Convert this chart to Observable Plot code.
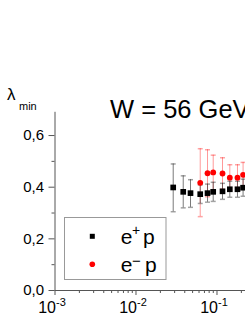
<!DOCTYPE html>
<html><head><meta charset="utf-8">
<script src="https://cdn.jsdelivr.net/npm/d3@7"></script>
<script src="https://cdn.jsdelivr.net/npm/@observablehq/plot@0.6"></script>
<style>
html,body{margin:0;padding:0;background:#fff;overflow:hidden;}
#chart{position:relative;width:245px;height:317px;overflow:hidden;}
</style></head><body><div id="chart"></div>
<script>
// e+ p series
const xEplus    = [0.0288,0.0383,0.0471,0.0621,0.0764,0.0898,0.117,0.144,0.179,0.210];
const lamEplus  = [0.399,0.382,0.377,0.373,0.377,0.382,0.384,0.392,0.392,0.398];
const lowEplus  = [0.305,0.320,0.322,0.337,0.342,0.345,0.353,0.361,0.361,0.365];
const highEplus = [0.490,0.444,0.429,0.409,0.412,0.419,0.415,0.423,0.423,0.431];
// e- p series
const xEminus    = [0.0621,0.0764,0.0898,0.117,0.144,0.179,0.210];
const lamEminus  = [0.417,0.454,0.457,0.453,0.437,0.437,0.448];
const lowEminus  = [0.286,0.363,0.390,0.392,0.387,0.387,0.400];
const highEminus = [0.549,0.545,0.524,0.514,0.487,0.487,0.496];
// ticks
const yTicks = [0, 0.2, 0.4, 0.6];
const yMinor = [0.1, 0.3, 0.5];
const xTicks = [1e-3, 1e-2, 1e-1];
const xMinor = [2e-3,3e-3,4e-3,5e-3,6e-3,7e-3,8e-3,9e-3,2e-2,3e-2,4e-2,5e-2,6e-2,7e-2,8e-2,9e-2,2e-1];
const titleText = "W = 56 GeV";
const yLabelMain = "λ", yLabelSub = "min";
const legendSeries = [["e","+","p"],["e","−","p"]];

const rowsPlus = xEplus.map((x,i)=>({x, y:lamEplus[i], lo:lowEplus[i], hi:highEplus[i]}));
const rowsMinus = xEminus.map((x,i)=>({x, y:lamEminus[i], lo:lowEminus[i], hi:highEminus[i]}));

const cap = {draw(ctx){ ctx.moveTo(-2.5,0); ctx.lineTo(2.5,0); }};
const AX = "#555";
const FONT = "'Liberation Sans', Arial, sans-serif";
const blank = () => "";

const plot = Plot.plot({
  width: 245, height: 317,
  marginLeft: 54.5, marginRight: 0, marginTop: 111.8, marginBottom: 27,
  style: {fontFamily: FONT, fontSize: "15px", background: "white", color: "black"},
  x: {type: "log", domain: [1e-3, 0.2249], axis: null},
  y: {domain: [0, 0.69], axis: null},
  marks: [
    Plot.ruleX(rowsMinus, {x:"x", y1:"lo", y2:"hi", stroke:"red", strokeOpacity:0.4, strokeWidth:1}),
    Plot.dot(rowsMinus, {x:"x", y:"lo", symbol:cap, stroke:"red", strokeOpacity:0.35, fill:"none"}),
    Plot.dot(rowsMinus, {x:"x", y:"hi", symbol:cap, stroke:"red", strokeOpacity:0.35, fill:"none"}),
    Plot.ruleX(rowsPlus, {x:"x", y1:"lo", y2:"hi", stroke:"#333", strokeOpacity:0.65, strokeWidth:1}),
    Plot.dot(rowsPlus, {x:"x", y:"lo", symbol:cap, stroke:"#333", strokeOpacity:0.45, fill:"none"}),
    Plot.dot(rowsPlus, {x:"x", y:"hi", symbol:cap, stroke:"#333", strokeOpacity:0.45, fill:"none"}),
    Plot.dot(rowsPlus, {x:"x", y:"y", symbol:"square", r:3.2, fill:"black", stroke:"none"}),
    Plot.dot(rowsMinus, {x:"x", y:"y", symbol:"circle", r:2.9, fill:"red", stroke:"none"}),
    Plot.axisY({ticks: yMinor, tickSize: 3, tickFormat: blank, stroke: AX, label: null}),
    Plot.axisY({ticks: yTicks, tickSize: 6, tickPadding: 5, fontSize: 15, stroke: AX, fill: "black",
      tickFormat: d => d.toFixed(1).replace(".", ","), label: null}),
    Plot.axisX({ticks: xMinor, tickSize: 3, tickFormat: blank, stroke: AX, label: null}),
    Plot.axisX({ticks: xTicks, tickSize: 5, tickFormat: blank, stroke: AX, label: null}),
    Plot.axisX({ticks: xTicks, tickSize: 0, tickPadding: 11, dx: -3, fontSize: 16, fill: "black",
      tickFormat: d => "10|" + Math.round(Math.log10(d)), label: null}),
    Plot.ruleX([1e-3], {stroke: AX}),
    Plot.ruleY([0], {stroke: AX})
  ]
});

document.getElementById("chart").appendChild(plot);
const svg = d3.select(plot);

// superscript exponents for x tick labels
svg.selectAll("text").each(function(){
  const t = this.textContent;
  if (t && t.indexOf("|") >= 0 && this.children.length === 0) {
    const [base, exp] = t.split("|");
    this.textContent = "";
    d3.select(this).append("tspan").text(base);
    d3.select(this).append("tspan").attr("dy", -6.4).attr("font-size", 11).text(exp);
  }
});

// annotations
const g = svg.append("g").attr("font-family", FONT).attr("fill", "black").attr("text-anchor", "start");
g.append("text").attr("x", 110).attr("y", 118.3).attr("font-size", 25.5).text(titleText);
g.append("text").attr("x", 7).attr("y", 100).attr("font-size", 17).text(yLabelMain);
g.append("text").attr("x", 19).attr("y", 109.5).attr("font-size", 11).text(yLabelSub);

const lg = g.append("g");
lg.append("rect").attr("x", 64.5).attr("y", 217.5).attr("width", 101.5).attr("height", 62)
  .attr("fill", "white").attr("stroke", "#999").attr("stroke-width", 1);
lg.append("rect").attr("x", 89.8).attr("y", 233.8).attr("width", 5).attr("height", 5).attr("fill", "black");
lg.append("circle").attr("cx", 92.3).attr("cy", 264.3).attr("r", 2.8).attr("fill", "red");
const rowsY = [[243.5, 235.4], [272, 266.3]];
const supX = [132, 132];
const pX = [143, 145];
legendSeries.forEach((s, i) => {
  lg.append("text").attr("x", 120.8).attr("y", rowsY[i][0]).attr("font-size", 21).text(s[0]);
  lg.append("text").attr("x", supX[i]).attr("y", rowsY[i][1]).attr("font-size", i === 0 ? 14 : 15).text(s[1]);
  lg.append("text").attr("x", pX[i]).attr("y", rowsY[i][0]).attr("font-size", 21).text(s[2]);
});
</script></body></html>
